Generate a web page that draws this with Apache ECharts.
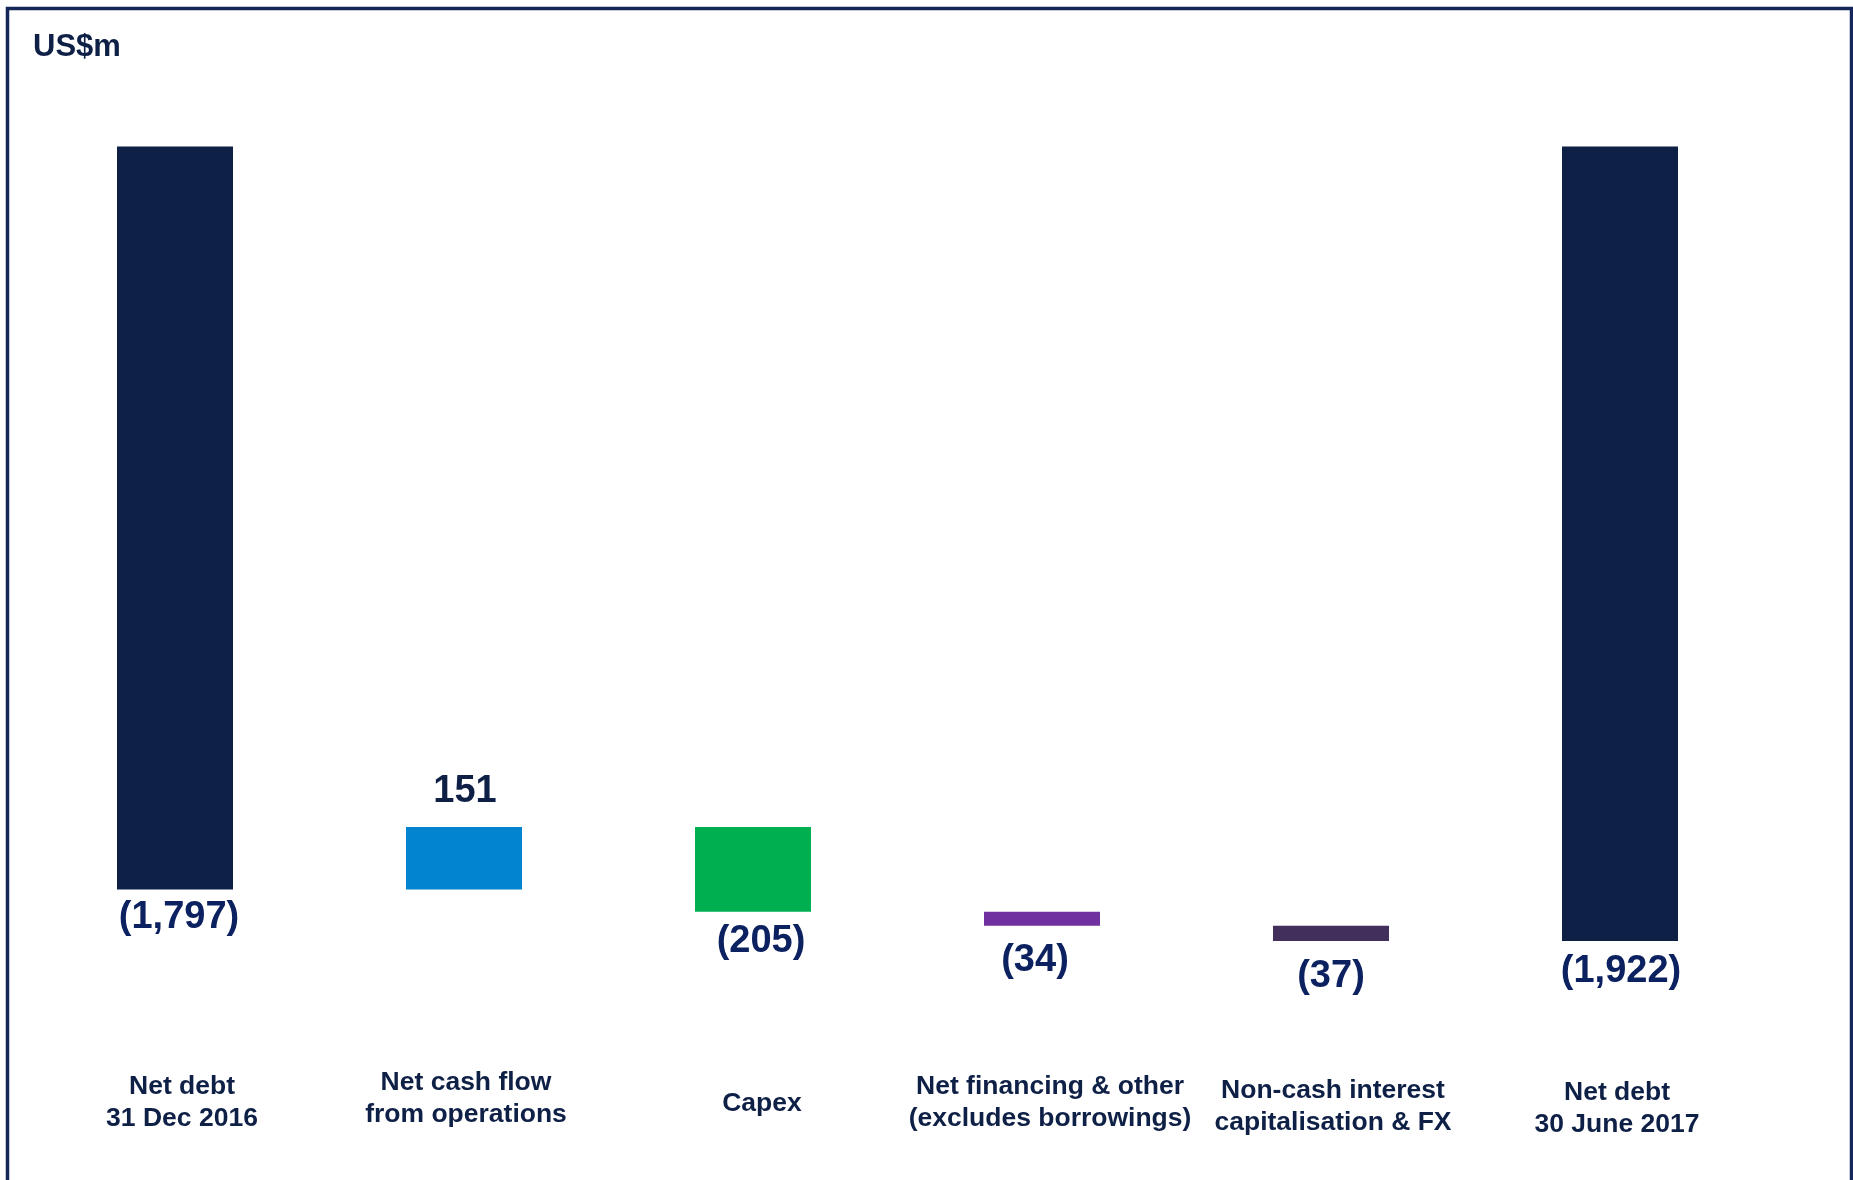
<!DOCTYPE html>
<html>
<head>
<meta charset="utf-8">
<script src="https://cdn.jsdelivr.net/npm/echarts@6/dist/echarts.min.js"></script>
<style>
  html, body { margin: 0; padding: 0; background: #fff; }
  #chart { width: 1853px; height: 1180px; }
</style>
</head>
<body>
<div id="chart"></div>
<script>
// categories and movements (US$m), net debt shown as negative
const categories = [
  "Net debt\n31 Dec 2016",
  "Net cash flow\nfrom operations",
  "Capex",
  "Net financing & other\n(excludes borrowings)",
  "Non-cash interest\ncapitalisation & FX",
  "Net debt\n30 June 2017"
];
const changes = [-1797, 151, -205, -34, -37, -1922];
const isTotal = [true, false, false, false, false, true];
const barColors = ["#0F2047", "#0284D0", "#00AF50", "#7030A0", "#432F5B", "#0F2047"];

// label placement tweaks (layout only)
const labelGap = [9, 16, 11, 16, 16, 11];
const labelShiftX = [4, 1, 8, -7, 0, 1];
const catPadTop = [4, 0, 21, 4, 8, 10];
const catShift = [14, 4, 18, 16, 4, -6];

const navy = "#0F2047";
const font = "Liberation Sans, Arial, sans-serif";

// build waterfall: transparent base + visible segment
let running = 0;
const baseData = [];
const showData = [];
changes.forEach((v, i) => {
  if (isTotal[i]) {
    baseData.push(0);
    showData.push(v);
    running = v;
  } else {
    const next = running + v;
    baseData.push(Math.max(running, next));
    showData.push(-Math.abs(v));
    running = next;
  }
});

function fmt(v) {
  const s = Math.abs(v).toLocaleString("en-US");
  return v < 0 ? "(" + s + ")" : s;
}

const chart = echarts.init(document.getElementById("chart"));
chart.setOption({
  animation: false,
  backgroundColor: "#fff",
  graphic: [
    {
      type: "rect",
      shape: { x: 7.5, y: 8.5, width: 1844, height: 1300 },
      style: { fill: "none", stroke: "#15275A", lineWidth: 3.5 }
    }
  ],
  title: {
    text: "US$m",
    left: 28,
    top: 27,
    textStyle: { color: navy, fontSize: 31, fontWeight: "bold", fontFamily: font }
  },
  grid: { left: 30.5, right: 88.5, top: 146.5, height: 826.8, containLabel: false },
  xAxis: {
    type: "category",
    data: categories.map((c, i) => ({
      value: c,
      textStyle: { padding: [catPadTop[i], 0, 0, catShift[i]] }
    })),
    axisLine: { show: false },
    axisTick: { show: false },
    axisLabel: {
      interval: 0,
      margin: 93,
      color: navy,
      fontSize: 26.5,
      lineHeight: 32,
      fontWeight: "bold",
      fontFamily: font
    }
  },
  yAxis: {
    type: "value",
    min: -2000,
    max: 0,
    show: false
  },
  series: [
    {
      type: "bar",
      stack: "wf",
      barWidth: 116,
      itemStyle: { color: "transparent" },
      data: baseData,
      silent: true
    },
    {
      type: "bar",
      stack: "wf",
      barWidth: 116,
      data: showData.map((v, i) => ({
        value: v,
        itemStyle: { color: barColors[i] },
        label: {
          show: true,
          position: changes[i] > 0 ? "top" : "bottom",
          distance: labelGap[i],
          offset: [labelShiftX[i], 0],
          formatter: () => fmt(changes[i]),
          color: changes[i] > 0 ? navy : "#0C2160",
          fontSize: 38,
          fontWeight: "bold",
          fontFamily: font
        }
      }))
    }
  ]
});
</script>
</body>
</html>
